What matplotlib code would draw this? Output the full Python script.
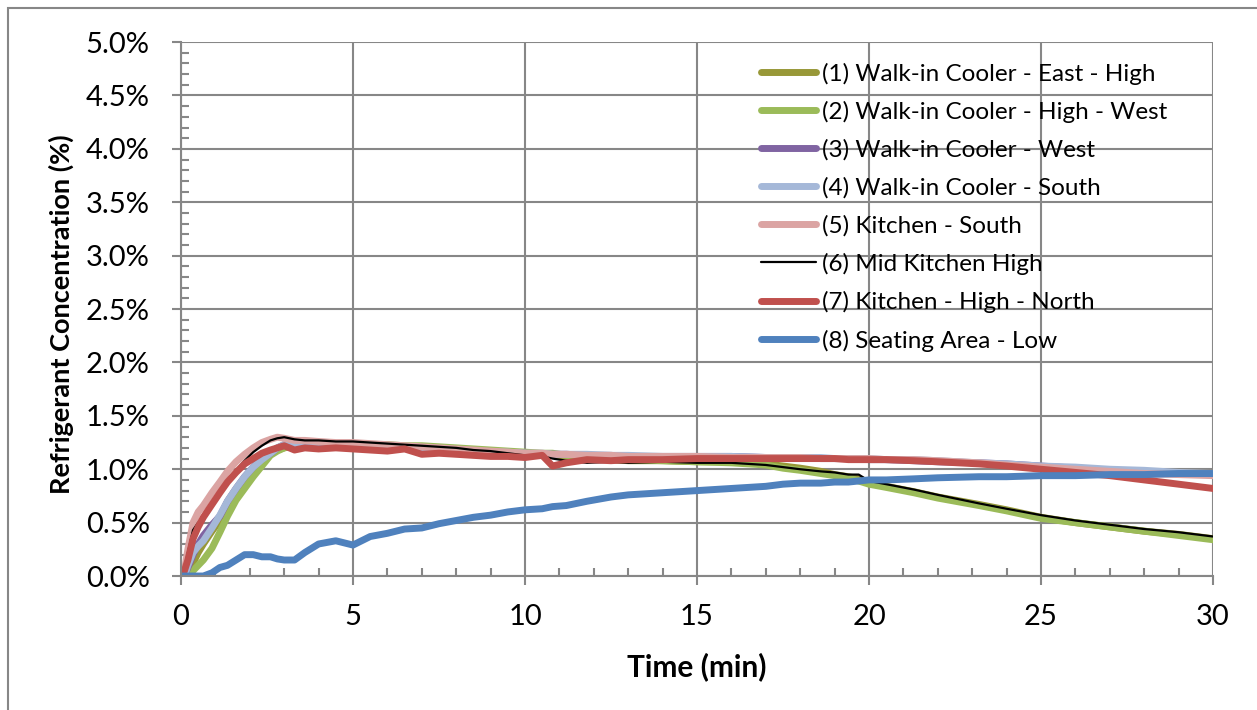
import matplotlib.pyplot as plt
from matplotlib.patches import Rectangle
from matplotlib.ticker import MultipleLocator, PercentFormatter

plt.rcParams['font.family'] = ['Lato', 'DejaVu Sans']

# concentration readings (%), time in minutes
t_min = [0.0, 0.1, 0.2, 0.35, 0.5, 0.65, 0.9, 1.13, 1.35, 1.6, 1.85, 2.1, 2.35, 2.6, 2.8, 3.0, 3.3,
         3.6, 4.0, 4.5, 5.0, 5.5, 6.0, 6.5, 7.0, 7.5, 8.0, 8.5, 9.0, 9.5, 10.0, 10.5, 10.8,
         11.2, 11.8, 12.5, 13.0, 14.0, 15.0, 16.0, 17.0, 17.5, 18.0, 18.6, 19.0, 19.4, 19.7,
         20.0, 20.5, 21.3, 22.0, 23.2, 24.0, 25.0, 26.0, 27.0, 28.0, 29.0, 30.0]

east_high = [0.0, 0.0, 0.03, 0.12, 0.22, 0.3, 0.42, 0.52, 0.66, 0.8, 0.92, 1.0, 1.08, 1.15, 1.18, 1.2, 1.22,
             1.23, 1.24, 1.24, 1.23, 1.23, 1.22, 1.21, 1.2, 1.19, 1.18, 1.17, 1.16, 1.16, 1.15, 1.14, 1.13,
             1.12, 1.1, 1.09, 1.08, 1.08, 1.07, 1.07, 1.05, 1.03, 1.01, 0.98, 0.95, 0.93, 0.91,
             0.88, 0.84, 0.79, 0.74, 0.67, 0.62, 0.55, 0.5, 0.46, 0.42, 0.39, 0.35]
high_west = [0.0, 0.0, 0.0, 0.05, 0.1, 0.15, 0.26, 0.41, 0.56, 0.71, 0.82, 0.93, 1.03, 1.13, 1.17, 1.2, 1.22,
             1.23, 1.24, 1.24, 1.24, 1.23, 1.23, 1.22, 1.22, 1.21, 1.2, 1.19, 1.18, 1.17, 1.16, 1.15, 1.15,
             1.13, 1.11, 1.1, 1.09, 1.08, 1.07, 1.06, 1.04, 1.01, 0.99, 0.96, 0.94, 0.92, 0.89,
             0.86, 0.83, 0.78, 0.73, 0.66, 0.61, 0.54, 0.5, 0.46, 0.42, 0.38, 0.34]
cooler_west = [0.0, 0.0, 0.08, 0.2, 0.3, 0.38, 0.48, 0.56, 0.7, 0.82, 0.93, 1.02, 1.1, 1.15, 1.2, 1.23, 1.24,
               1.24, 1.24, 1.24, 1.23, 1.22, 1.21, 1.2, 1.19, 1.18, 1.17, 1.16, 1.16, 1.15, 1.15, 1.14, 1.14,
               1.14, 1.13, 1.13, 1.12, 1.12, 1.12, 1.12, 1.11, 1.11, 1.11, 1.1, 1.1, 1.1, 1.1,
               1.09, 1.09, 1.08, 1.07, 1.06, 1.05, 1.03, 1.01, 0.99, 0.98, 0.96, 0.95]
cooler_south = [0.0, 0.0, 0.1, 0.22, 0.28, 0.33, 0.45, 0.57, 0.7, 0.82, 0.93, 1.02, 1.09, 1.15, 1.2, 1.23, 1.24,
                1.24, 1.24, 1.24, 1.23, 1.22, 1.21, 1.2, 1.19, 1.18, 1.18, 1.17, 1.16, 1.16, 1.15, 1.15, 1.14,
                1.14, 1.14, 1.13, 1.13, 1.12, 1.12, 1.12, 1.11, 1.11, 1.11, 1.11, 1.1, 1.1, 1.1,
                1.1, 1.09, 1.09, 1.08, 1.06, 1.05, 1.03, 1.02, 1.0, 0.99, 0.97, 0.96]
kitchen_south = [0.0, 0.05, 0.25, 0.5, 0.6, 0.66, 0.78, 0.88, 0.98, 1.07, 1.14, 1.2, 1.25, 1.28, 1.3, 1.29, 1.27,
                 1.27, 1.26, 1.25, 1.25, 1.24, 1.23, 1.22, 1.21, 1.2, 1.19, 1.18, 1.17, 1.16, 1.15, 1.15, 1.14,
                 1.14, 1.13, 1.13, 1.12, 1.12, 1.12, 1.11, 1.11, 1.11, 1.11, 1.1, 1.1, 1.1, 1.1,
                 1.1, 1.09, 1.09, 1.08, 1.06, 1.04, 1.02, 1.0, 0.98, 0.96, 0.95, 0.94]
mid_kitchen = [0.0, 0.05, 0.22, 0.43, 0.5, 0.55, 0.68, 0.79, 0.89, 0.99, 1.08, 1.16, 1.22, 1.27, 1.29, 1.3, 1.28,
               1.27, 1.27, 1.26, 1.26, 1.25, 1.24, 1.23, 1.22, 1.21, 1.2, 1.18, 1.17, 1.15, 1.13, 1.12, 1.1,
               1.08, 1.06, 1.07, 1.06, 1.07, 1.06, 1.06, 1.04, 1.02, 1.0, 0.98, 0.97, 0.95, 0.95,
               0.89, 0.86, 0.81, 0.76, 0.68, 0.63, 0.57, 0.52, 0.48, 0.44, 0.41, 0.37]
high_north = [0.0, 0.05, 0.15, 0.35, 0.46, 0.55, 0.67, 0.78, 0.88, 0.97, 1.05, 1.1, 1.15, 1.18, 1.2, 1.22, 1.18,
              1.2, 1.19, 1.2, 1.19, 1.18, 1.17, 1.19, 1.14, 1.15, 1.14, 1.13, 1.12, 1.12, 1.11, 1.13, 1.03,
              1.06, 1.09, 1.08, 1.09, 1.09, 1.1, 1.1, 1.1, 1.1, 1.1, 1.1, 1.1, 1.09, 1.09,
              1.09, 1.09, 1.08, 1.07, 1.05, 1.03, 1.0, 0.97, 0.94, 0.9, 0.86, 0.82]
seating_low = [0.0, 0.0, 0.0, 0.0, 0.0, 0.0, 0.03, 0.08, 0.1, 0.15, 0.2, 0.2, 0.18, 0.18, 0.16, 0.15, 0.15,
               0.22, 0.3, 0.33, 0.29, 0.37, 0.4, 0.44, 0.45, 0.49, 0.52, 0.55, 0.57, 0.6, 0.62, 0.63, 0.65,
               0.66, 0.7, 0.74, 0.76, 0.78, 0.8, 0.82, 0.84, 0.86, 0.87, 0.87, 0.88, 0.88, 0.89,
               0.9, 0.9, 0.91, 0.92, 0.93, 0.93, 0.94, 0.94, 0.95, 0.95, 0.96, 0.96]

series = [
    ('(1) Walk-in Cooler - East - High', east_high, '#989838', 5),
    ('(2) Walk-in Cooler - High - West', high_west, '#9BBB59', 5),
    ('(3) Walk-in Cooler - West', cooler_west, '#8064A2', 5),
    ('(4) Walk-in Cooler - South', cooler_south, '#A5B8D8', 5),
    ('(5) Kitchen - South', kitchen_south, '#DBA4A3', 5),
    ('(6) Mid Kitchen High', mid_kitchen, '#000000', 1.6),
    ('(7) Kitchen - High - North', high_north, '#C0504D', 5),
    ('(8) Seating Area - Low', seating_low, '#4F81BD', 5),
]

fig = plt.figure(figsize=(12.57, 7.10), dpi=100)
ax = fig.add_axes([0.144, 0.1887, 0.821, 0.752])

for label, vals, color, lw in series:
    ax.plot(t_min, vals, color=color, lw=lw, label=label, solid_capstyle='round')

ax.set_xlim(0, 30)
ax.set_ylim(0, 5.0)
ax.xaxis.set_major_locator(MultipleLocator(5))
ax.xaxis.set_minor_locator(MultipleLocator(1))
ax.yaxis.set_major_locator(MultipleLocator(0.5))
ax.yaxis.set_minor_locator(MultipleLocator(0.1))
ax.yaxis.set_major_formatter(PercentFormatter(100, decimals=1))

ax.grid(True, which='major', color='#878787', lw=1.5)
ax.set_axisbelow(True)
for side in ['top', 'right']:
    ax.spines[side].set_visible(False)
for side in ['left', 'bottom']:
    ax.spines[side].set_color('#878787')
    ax.spines[side].set_linewidth(1.5)

ax.tick_params(which='major', direction='out', length=6.5, width=1.5, color='#878787',
               labelsize=21)
ax.tick_params(axis='y', which='major', pad=16)
ax.tick_params(axis='x', which='major', pad=14)
ax.tick_params(which='minor', direction='in', length=6, width=1.5, color='#878787')

ax.set_xlabel('Time (min)', fontsize=21.5, fontweight='bold')
ax.set_ylabel('Refrigerant Concentration (%)', fontsize=19.5, fontweight='bold')
ax.xaxis.set_label_coords(0.5, -0.142)
ax.yaxis.set_label_coords(-0.104, 0.49)

ax.legend(loc='upper left', bbox_to_anchor=(0.553, 0.98), frameon=False, fontsize=17.5,
          handlelength=2.25, handletextpad=0.25, labelspacing=0.67, borderaxespad=0)

# outer chart border
fig.patches.append(Rectangle((8 / 1257, -0.05), 1.1, 1 - 8 / 710 + 0.05, transform=fig.transFigure,
                             fill=False, edgecolor='#878787', lw=1.5))

fig.savefig('out.png', dpi=100)
